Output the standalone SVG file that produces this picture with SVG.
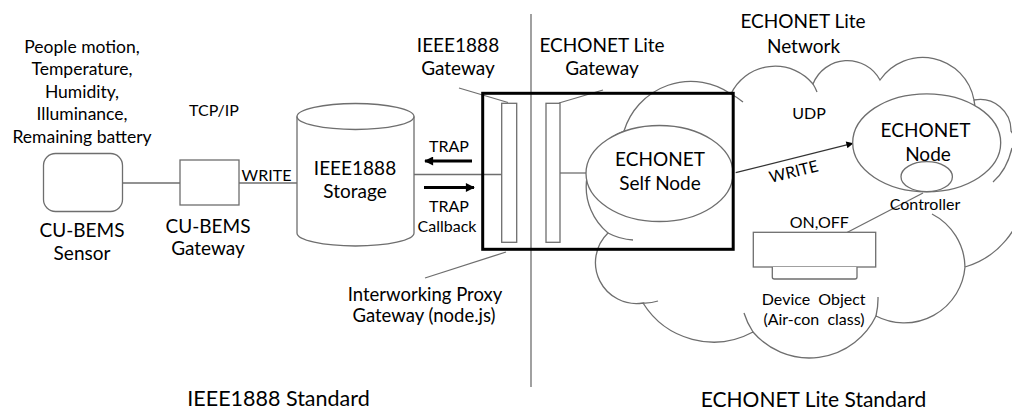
<svg xmlns="http://www.w3.org/2000/svg" width="1012" height="411" viewBox="0 0 1012 411">
<style>
text{font-family:Lato,"Open Sans","Liberation Sans",sans-serif;fill:#000;text-anchor:middle}
.l{font-size:19px}
.p{font-size:17.5px}
.q{font-size:18.5px}
.m{font-size:16px}
.ln{stroke:#6e6e6e;stroke-width:1.3;fill:none}
.sh{stroke:#6e6e6e;stroke-width:1.3;fill:#fff}
</style>
<defs>
<marker id="ah" viewBox="0 0 10 10" refX="9" refY="5" markerWidth="8" markerHeight="7" markerUnits="userSpaceOnUse" orient="auto"><path d="M0,0 L10,5 L0,10 Z" fill="#000"/></marker>
<marker id="bh" viewBox="0 0 10 10" refX="9" refY="5" markerWidth="11" markerHeight="9" markerUnits="userSpaceOnUse" orient="auto"><path d="M0,0 L10,5 L0,10 Z" fill="#000"/></marker>
</defs>

<g id="divider"><line class="ln" x1="531" y1="14" x2="531" y2="387"/></g>

<g id="cloud">
<path class="ln" fill="#fff" d="M624 131 A70 70 0 0 1 731 94 A49 49 0 0 1 813 84 A37 37 0 0 1 880 80 A52 52 0 0 1 974 100 A31 31 0 0 1 1011 131 L1030 160 L1025 195 A84 84 0 0 1 965 267 A61 61 0 0 1 876 316 A74 74 0 0 1 753 332 A83 83 0 0 1 643 303 A41 41 0 0 1 608 233 A60 60 0 0 1 624 131 Z"/>
<path class="ln" d="M731 94 A70 70 0 0 1 743 102 M813 84 A49 49 0 0 1 817 92 M974 100 A52 52 0 0 1 975 110 M993 182 Q1007 170 1012 148 M932 214 A61 61 0 0 1 965 267 M878 297 A74 74 0 0 1 876 316 M753 332 A74 74 0 0 1 744 313 M658 301 A41 41 0 0 1 643 303 M633 240 A60 60 0 0 1 608 233"/>
</g>

<g id="connectors">
<line class="ln" x1="122" y1="183" x2="180" y2="183"/>
<line class="ln" x1="239" y1="183" x2="297" y2="183"/>
<line class="ln" x1="414" y1="174.5" x2="502" y2="174.5"/>
<line class="ln" x1="560" y1="173" x2="586" y2="173"/>
<line stroke="#000" stroke-width="3" x1="472" y1="161" x2="425" y2="161" marker-end="url(#bh)"/>
<line stroke="#000" stroke-width="3" x1="424" y1="187.5" x2="474" y2="187.5" marker-end="url(#bh)"/>
<line class="ln" x1="459" y1="88" x2="508" y2="102.5"/>
<line class="ln" x1="559" y1="103" x2="603" y2="90"/>
<line class="ln" x1="506" y1="252" x2="425" y2="278"/>
<line stroke="#333" stroke-width="1.2" x1="735.7" y1="172.7" x2="852.7" y2="143.3" marker-end="url(#ah)"/>
<line class="ln" x1="923" y1="193" x2="847" y2="232.5"/>
</g>

<g id="left-text">
<text class="p" x="82" y="52.5">People motion,</text>
<text class="p" x="82" y="75">Temperature,</text>
<text class="p" x="82" y="97.5">Humidity,</text>
<text class="p" x="82" y="120">Illuminance,</text>
<text class="p" x="82" y="143">Remaining battery</text>
<text class="m" x="214" y="116">TCP/IP</text>
<text class="m" x="266.5" y="181">WRITE</text>
</g>

<g id="sensor">
<rect class="sh" x="43.5" y="153.5" width="79" height="58" rx="12"/>
<text class="l" x="82" y="236.5">CU-BEMS</text>
<text class="l" x="82" y="260">Sensor</text>
</g>

<g id="cubems-gateway">
<rect class="sh" x="180" y="160" width="59" height="45"/>
<text class="l" x="208" y="233">CU-BEMS</text>
<text class="l" x="208" y="255">Gateway</text>
</g>

<g id="storage">
<path class="sh" d="M297 116.5 L297 233 A58.5 13 0 0 0 414 233 L414 116.5 A58.5 13 0 0 0 297 116.5 Z"/>
<path class="ln" d="M297 116.5 A58.5 13 0 0 0 414 116.5"/>
<text class="l" x="355" y="175">IEEE1888</text>
<text class="l" x="355" y="198">Storage</text>
</g>

<g id="trap-labels">
<text class="m" x="449" y="151.5">TRAP</text>
<text class="m" x="449" y="211.5">TRAP</text>
<text class="m" x="447" y="231.5">Callback</text>
</g>

<g id="self-node">
<ellipse class="sh" cx="659.5" cy="173.5" rx="73.5" ry="48"/>
<text class="l" x="660" y="166">ECHONET</text>
<text class="l" x="660" y="190">Self Node</text>
</g>

<g id="proxy-gateway">
<rect x="482.7" y="93.3" width="250.5" height="156" fill="none" stroke="#000" stroke-width="3"/>
<rect class="sh" x="501.7" y="103.3" width="15" height="139"/>
<rect class="sh" x="546" y="103.3" width="14" height="139"/>
<text class="l" x="458" y="51.5">IEEE1888</text>
<text class="l" x="458" y="75">Gateway</text>
<text class="l" x="602" y="51.5">ECHONET Lite</text>
<text class="l" x="602" y="75">Gateway</text>
<text class="q" x="425" y="301">Interworking Proxy</text>
<text class="q" x="424" y="322">Gateway (node.js)</text>
</g>

<g id="network-labels">
<text class="l" x="803" y="28.3">ECHONET Lite</text>
<text class="l" x="803.5" y="52.7">Network</text>
<text class="m" x="809" y="119.3">UDP</text>
<text class="m" transform="translate(795 177) rotate(-14)">WRITE</text>
</g>

<g id="echonet-node">
<ellipse class="sh" cx="926.7" cy="142.8" rx="74" ry="49"/>
<ellipse class="sh" cx="926.7" cy="176.7" rx="25.7" ry="15"/>
<text class="l" x="925.5" y="136.7">ECHONET</text>
<text class="l" x="928" y="161">Node</text>
<text class="m" x="925" y="210">Controller</text>
</g>

<g id="device-object">
<rect class="sh" x="753.3" y="232.3" width="122.4" height="34.7"/>
<path class="sh" d="M772.3 267 L772.3 277 Q772.3 279 774.3 279 L855 279 Q857 279 857 277 L857 267"/>
<text class="m" x="819.3" y="228.3">ON,OFF</text>
<text class="m" x="813.7" y="305" word-spacing="4">Device Object</text>
<text class="m" x="814" y="325" word-spacing="4">(Air-con class)</text>
</g>

<g id="standards">
<text font-size="21.5" x="278.5" y="405.7">IEEE1888 Standard</text>
<text font-size="21" x="813.5" y="406.7">ECHONET Lite Standard</text>
</g>
</svg>
